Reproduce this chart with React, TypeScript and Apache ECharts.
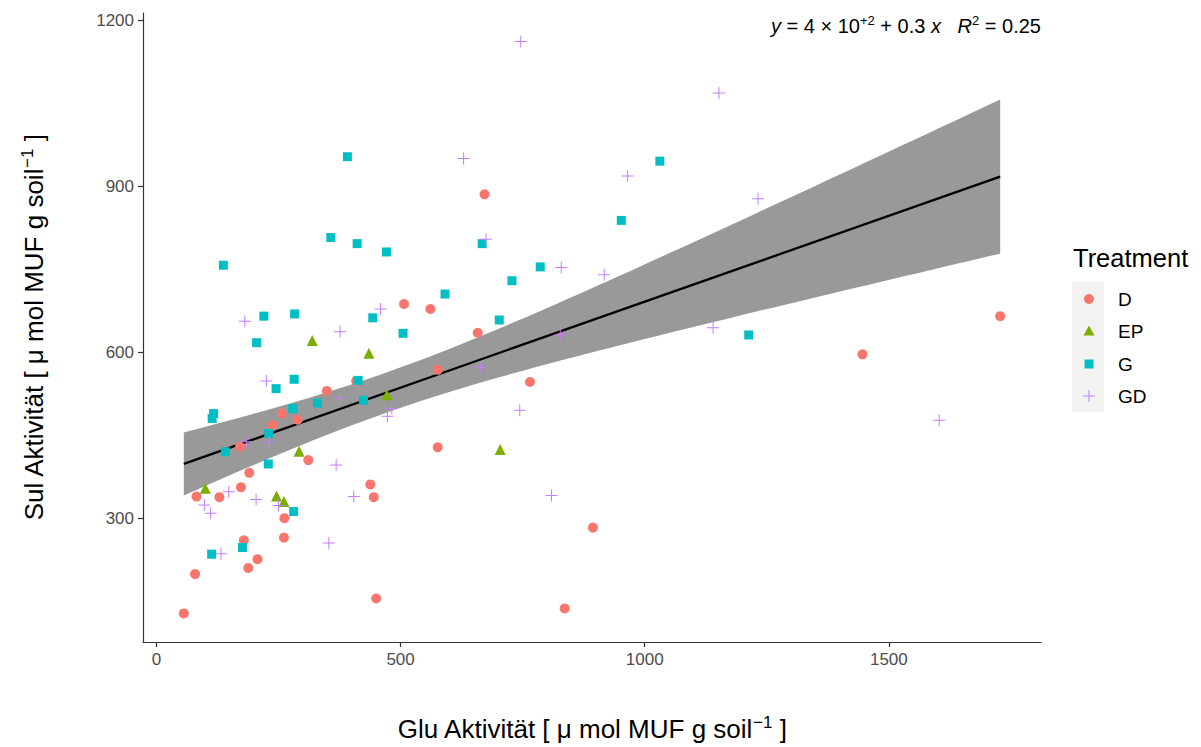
import React, { useEffect, useRef } from "react";
import * as echarts from "echarts";

const FONT = '"Liberation Sans", Arial, Helvetica, sans-serif';

// Enzyme activities per treatment (Glu on x, Sul on y)
const dX = [507, 561, 576, 409, 349, 257, 289, 238, 171, 311, 190, 438, 445, 82, 129, 173, 262, 261, 179, 207, 188, 79, 450, 56, 672, 658, 765, 576, 894, 836, 1728, 1446];
const dY = [687, 678, 568, 548, 530, 489, 478, 468, 429, 405, 382, 361, 338, 339, 338, 356, 300, 265, 260, 226, 210, 199, 155, 128, 885, 635, 546, 428, 283, 137, 665, 596];

const epX = [319, 435, 472, 292, 100, 246, 261, 704];
const epY = [621, 598, 523, 421, 354, 340, 330, 424];

const gX = [391, 357, 411, 471, 137, 220, 283, 443, 505, 205, 282, 245, 413, 330, 424, 117, 114, 279, 230, 141, 229, 281, 176, 113, 667, 1031, 952, 786, 728, 591, 702, 1213];
const gY = [953, 807, 796, 781, 757, 665, 669, 662, 634, 617, 551, 534, 549, 508, 513, 489, 480, 498, 453, 420, 398, 312, 247, 235, 796, 945, 838, 754, 729, 705, 658, 631];

const gdX = [746, 1152, 629, 675, 965, 829, 917, 459, 181, 376, 1140, 827, 663, 744, 1232, 1603, 809, 225, 375, 482, 473, 231, 184, 368, 404, 148, 204, 250, 98, 111, 132, 353];
const gdY = [1161, 1068, 950, 804, 918, 753, 740, 678, 656, 637, 644, 631, 572, 495, 877, 477, 341, 548, 517, 498, 484, 437, 438, 396, 339, 348, 334, 323, 324, 309, 236, 255];

const treatments = ["D", "EP", "G", "GD"];
const colors = ["#F8766D", "#7CAE00", "#00BFC4", "#C77CFF"];

const xTicks = [0, 500, 1000, 1500];
const yTicks = [300, 600, 900, 1200];

const equationText = "{i|y} = 4 \u00d7 10{sup|+2} + 0.3 {i|x}   {i|R}{sup|2} = 0.25";

const PLUS = "path://M0,5.5 L12,5.5 L12,6.5 L0,6.5 Z M5.5,0 L6.5,0 L6.5,12 L5.5,12 Z";

function zip(xs: number[], ys: number[]) {
  return xs.map((x, i) => [x, ys[i]]);
}

// Linear fit with 95% confidence band, evaluated on 80 points across the data range
const allX = [...dX, ...epX, ...gX, ...gdX];
const allY = [...dY, ...epY, ...gY, ...gdY];
const n = allX.length;
const mx = allX.reduce((a, b) => a + b, 0) / n;
const my = allY.reduce((a, b) => a + b, 0) / n;
let sxx = 0;
let sxy = 0;
for (let i = 0; i < n; i++) {
  sxx += (allX[i] - mx) ** 2;
  sxy += (allX[i] - mx) * (allY[i] - my);
}
const slope = sxy / sxx;
const intercept = my - slope * mx;
let sse = 0;
for (let i = 0; i < n; i++) sse += (allY[i] - intercept - slope * allX[i]) ** 2;
const sigma = Math.sqrt(sse / (n - 2));
const tCrit = 1.9835;
const xMin = Math.min(...allX);
const xMax = Math.max(...allX);
const yMin = Math.min(...allY);
const yMax = Math.max(...allY);
const fitX: number[] = [];
const fitLo: number[] = [];
const fitHi: number[] = [];
for (let k = 0; k < 80; k++) {
  const x = xMin + (k * (xMax - xMin)) / 79;
  const yh = intercept + slope * x;
  const se = sigma * Math.sqrt(1 / n + (x - mx) ** 2 / sxx);
  fitX.push(x);
  fitLo.push(yh - tCrit * se);
  fitHi.push(yh + tCrit * se);
}

const xPad = (xMax - xMin) * 0.05;
const yPad = (yMax - yMin) * 0.05;

const symbols = ["circle", "triangle", "rect", PLUS];
const sizes = [10, 11, 9, 12];
const pointSets = [zip(dX, dY), zip(epX, epY), zip(gX, gY), zip(gdX, gdY)];

const legendRows = [299, 331, 364, 396];

function legendSymbol(i: number, cx: number, cy: number): any {
  const c = colors[i];
  if (i === 0) return { type: "circle", shape: { cx, cy, r: 5 }, style: { fill: c } };
  if (i === 1)
    return {
      type: "polygon",
      shape: { points: [[cx, cy - 5.5], [cx + 5.5, cy + 4.5], [cx - 5.5, cy + 4.5]] },
      style: { fill: c },
    };
  if (i === 2) return { type: "rect", shape: { x: cx - 4.5, y: cy - 4.5, width: 9, height: 9 }, style: { fill: c } };
  return {
    type: "group",
    children: [
      { type: "line", shape: { x1: cx - 6, y1: cy, x2: cx + 6, y2: cy }, style: { stroke: c, lineWidth: 1 } },
      { type: "line", shape: { x1: cx, y1: cy - 6, x2: cx, y2: cy + 6 }, style: { stroke: c, lineWidth: 1 } },
    ],
  };
}

const plain = (v: number) => String(v);

export default function App() {
  const ref = useRef<HTMLDivElement>(null);

  useEffect(() => {
    if (!ref.current) return;
    const chart = echarts.init(ref.current, null, { renderer: "svg" });

    const supRich = { sup: { fontSize: 17, fontFamily: FONT, padding: [0, 0, 13, 0] } };

    const option: any = {
      animation: false,
      backgroundColor: "#ffffff",
      textStyle: { fontFamily: FONT },
      grid: { left: 143, right: 160, top: 13, bottom: 104, containLabel: false },
      xAxis: {
        type: "value",
        min: xMin - xPad,
        max: xMax + xPad,
        name: "Glu Aktivit\u00e4t [ \u03bc mol MUF g soil{sup|\u22121} ]",
        nameLocation: "middle",
        nameGap: 72,
        nameTextStyle: { fontSize: 26, color: "#000", fontFamily: FONT, rich: supRich },
        axisLine: { show: true, onZero: false, lineStyle: { color: "#333", width: 1.2 } },
        axisTick: { show: true, length: 5, customValues: xTicks, lineStyle: { color: "#333", width: 1.2 } },
        axisLabel: { customValues: xTicks, formatter: plain, fontSize: 17, color: "#4D4D4D", margin: 9, fontFamily: FONT },
        splitLine: { show: false },
      },
      yAxis: {
        type: "value",
        min: yMin - yPad,
        max: yMax + yPad,
        name: "Sul Aktivit\u00e4t [ \u03bc mol MUF g soil{sup|\u22121} ]",
        nameLocation: "middle",
        nameRotate: 90,
        nameGap: 94,
        nameTextStyle: { fontSize: 26, color: "#000", fontFamily: FONT, rich: supRich },
        axisLine: { show: true, onZero: false, lineStyle: { color: "#333", width: 1.2 } },
        axisTick: { show: true, length: 5, customValues: yTicks, lineStyle: { color: "#333", width: 1.2 } },
        axisLabel: { customValues: yTicks, formatter: plain, fontSize: 17, color: "#4D4D4D", margin: 9, fontFamily: FONT },
        splitLine: { show: false },
      },
      series: [
        {
          type: "custom",
          name: "band",
          silent: true,
          z: 1,
          data: [[fitX[0], fitLo[0]]],
          renderItem: (_params: any, api: any) => {
            const pts: number[][] = [];
            for (let k = 0; k < fitX.length; k++) pts.push(api.coord([fitX[k], fitHi[k]]));
            for (let k = fitX.length - 1; k >= 0; k--) pts.push(api.coord([fitX[k], fitLo[k]]));
            return { type: "polygon", shape: { points: pts }, style: { fill: "#999999" } };
          },
        },
        {
          type: "line",
          name: "fit",
          silent: true,
          z: 2,
          symbol: "none",
          data: [
            [xMin, intercept + slope * xMin],
            [xMax, intercept + slope * xMax],
          ],
          lineStyle: { color: "#000", width: 2.3 },
        },
        ...treatments.map((t, i) => ({
          type: "scatter",
          name: t,
          z: 3,
          symbol: symbols[i],
          symbolSize: sizes[i],
          data: pointSets[i],
          itemStyle: { color: colors[i], opacity: 1 },
          emphasis: { disabled: true },
        })),
      ],
      graphic: [
        {
          type: "text",
          right: 160,
          top: 14,
          style: {
            text: equationText,
            fontSize: 20,
            fontFamily: FONT,
            fill: "#000",
            rich: {
              i: { fontStyle: "italic", fontSize: 20, fontFamily: FONT },
              sup: { fontSize: 13, fontFamily: FONT, padding: [0, 0, 10, 0] },
            },
          },
        },
        {
          type: "text",
          x: 1073,
          y: 258,
          style: { text: "Treatment", fontSize: 25.5, fontFamily: FONT, fill: "#000", verticalAlign: "middle", align: "left" },
        },
        {
          type: "rect",
          shape: { x: 1072, y: 282, width: 32, height: 130 },
          style: { fill: "#F2F2F2" },
        },
        ...treatments.map((t, i) => legendSymbol(i, 1089, legendRows[i])),
        ...treatments.map((t, i) => ({
          type: "text",
          x: 1118,
          y: legendRows[i],
          style: { text: t, fontSize: 19, fontFamily: FONT, fill: "#000", verticalAlign: "middle", align: "left" },
        })),
      ],
    };

    chart.setOption(option);
    return () => chart.dispose();
  }, []);

  return (
    <div
      ref={ref}
      style={{ position: "fixed", left: 0, top: 0, width: 1201, height: 747, background: "#fff" }}
    />
  );
}
